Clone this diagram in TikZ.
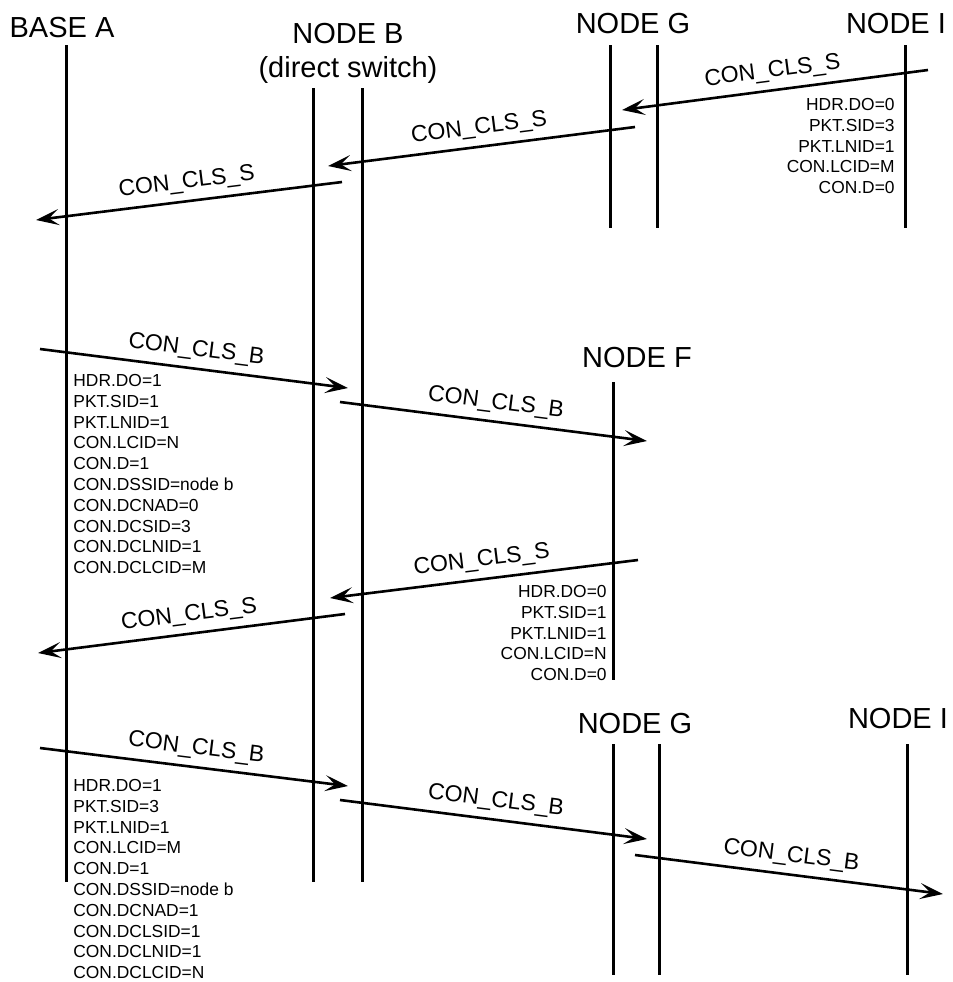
\documentclass[tikz,border=0pt]{standalone}
\usepackage{fontspec}
\setmainfont{Liberation Sans}
\usepackage{tikz}
\usetikzlibrary{arrows.meta}
\tikzset{
  life/.style={line width=1.5pt},
  msg/.style={-{Stealth[length=11.5pt, width=8pt, inset=5pt]}, line width=1.3pt},
  hdr/.style={font=\fontsize{14.5}{17}\selectfont, anchor=base, inner sep=0pt},
  msglbl/.style={font=\fontsize{11.5}{13}\selectfont, above, sloped, midway, inner sep=3.5pt},
  fields/.style={font=\fontsize{8.7}{10.4}\selectfont, inner sep=0pt}
}

\begin{document}
\begin{tikzpicture}[x=0.5pt, y=-0.5pt]
  \useasboundingbox (0,0) rectangle (953,982);

  % Headers
  \node[hdr] (baseA) at (62,37) {BASE A};
  \node[hdr, anchor=north, align=center] (nodeB) at (348,23) {NODE B\\(direct switch)};
  \node[hdr] (nodeG) at (633,33) {NODE G};
  \node[hdr] (nodeI) at (896,33) {NODE I};
  \node[hdr] (nodeF) at (637,367) {NODE F};
  \node[hdr] (nodeG2) at (635,733) {NODE G};
  \node[hdr] (nodeI2) at (898,728) {NODE I};

  % Lifelines
  \coordinate (la1) at (66,45);   \coordinate (la2) at (66,882);
  \coordinate (lb1) at (313,88);  \coordinate (lb2) at (313,882);
  \coordinate (lc1) at (362,88);  \coordinate (lc2) at (362,882);
  \coordinate (lg1) at (610,45);  \coordinate (lg2) at (610,228);
  \coordinate (lh1) at (657,45);  \coordinate (lh2) at (657,228);
  \coordinate (li1) at (905,45);  \coordinate (li2) at (905,228);
  \coordinate (lf1) at (613,382); \coordinate (lf2) at (613,680);
  \coordinate (lm1) at (613,744); \coordinate (lm2) at (613,975);
  \coordinate (ln1) at (659,744); \coordinate (ln2) at (659,975);
  \coordinate (lo1) at (907,744); \coordinate (lo2) at (907,975);
  \foreach \p in {la,lb,lc,lg,lh,li,lf,lm,ln,lo}
    \draw[life] (\p1) -- (\p2);

  % Release back to base A
  \coordinate (m1s) at (928,70);  \coordinate (m1e) at (622,110);
  \coordinate (m2s) at (635,127); \coordinate (m2e) at (328,166);
  \coordinate (m3s) at (342,182); \coordinate (m3e) at (36,220);
  \draw[msg] (m1s) -- node[msglbl] {CON\_CLS\_S} (m1e);
  \draw[msg] (m2s) -- node[msglbl] {CON\_CLS\_S} (m2e);
  \draw[msg] (m3s) -- node[msglbl] {CON\_CLS\_S} (m3e);
  \node[fields, anchor=north east, align=right] (fld1) at (895,98)
    {HDR.DO=0\\PKT.SID=3\\PKT.LNID=1\\CON.LCID=M\\CON.D=0};

  % Base A to node F and back
  \coordinate (m4s) at (40,349);  \coordinate (m4e) at (348,388);
  \coordinate (m5s) at (340,402); \coordinate (m5e) at (647,441);
  \coordinate (m6s) at (638,560); \coordinate (m6e) at (330,598);
  \coordinate (m7s) at (345,614); \coordinate (m7e) at (38,653);
  \draw[msg] (m4s) -- node[msglbl] {CON\_CLS\_B} (m4e);
  \draw[msg] (m5s) -- node[msglbl] {CON\_CLS\_B} (m5e);
  \draw[msg] (m6s) -- node[msglbl] {CON\_CLS\_S} (m6e);
  \draw[msg] (m7s) -- node[msglbl] {CON\_CLS\_S} (m7e);
  \node[fields, anchor=north west, align=left] (fld2) at (73,374)
    {HDR.DO=1\\PKT.SID=1\\PKT.LNID=1\\CON.LCID=N\\CON.D=1\\CON.DSSID=node b\\
     CON.DCNAD=0\\CON.DCSID=3\\CON.DCLNID=1\\CON.DCLCID=M};
  \node[fields, anchor=north east, align=right] (fld3) at (607,585)
    {HDR.DO=0\\PKT.SID=1\\PKT.LNID=1\\CON.LCID=N\\CON.D=0};

  % Base A to node I
  \coordinate (m8s) at (40,748);   \coordinate (m8e) at (348,786);
  \coordinate (m9s) at (340,800);  \coordinate (m9e) at (647,839);
  \coordinate (m10s) at (635,855); \coordinate (m10e) at (943,894);
  \draw[msg] (m8s) -- node[msglbl] {CON\_CLS\_B} (m8e);
  \draw[msg] (m9s) -- node[msglbl] {CON\_CLS\_B} (m9e);
  \draw[msg] (m10s) -- node[msglbl] {CON\_CLS\_B} (m10e);
  \node[fields, anchor=north west, align=left] (fld4) at (73,779)
    {HDR.DO=1\\PKT.SID=3\\PKT.LNID=1\\CON.LCID=M\\CON.D=1\\CON.DSSID=node b\\
     CON.DCNAD=1\\CON.DCLSID=1\\CON.DCLNID=1\\CON.DCLCID=N};
\end{tikzpicture}
\end{document}
